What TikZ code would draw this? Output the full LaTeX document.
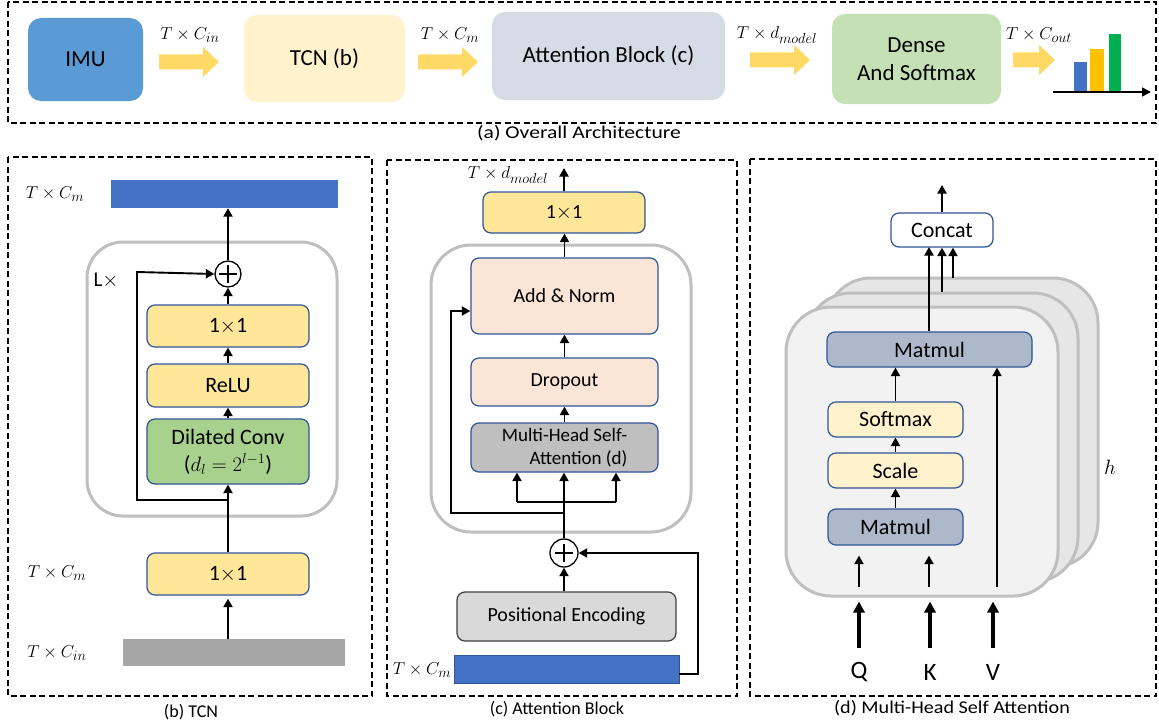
\documentclass[tikz,border=0pt]{standalone}
\usepackage{graphicx}
\usepackage{fontspec}
\setmainfont{Carlito}
\usetikzlibrary{arrows.meta}
\definecolor{imublue}{HTML}{5B9BD5}
\definecolor{tcnyel}{HTML}{FFF2CC}
\definecolor{attgray}{HTML}{D6DCE5}
\definecolor{densegreen}{HTML}{C5E0B4}
\definecolor{arrowyel}{HTML}{FFD966}
\definecolor{barblue}{HTML}{4472C4}
\definecolor{barorange}{HTML}{FFC000}
\definecolor{bargreen}{HTML}{00B050}
\definecolor{boxblue}{HTML}{2F5597}
\definecolor{convyel}{HTML}{FFE699}
\definecolor{dilgreen}{HTML}{A9D18E}
\definecolor{peach}{HTML}{FBE5D6}
\definecolor{mhsagray}{HTML}{BFBFBF}
\definecolor{posgray}{HTML}{D9D9D9}
\definecolor{posedge}{HTML}{404040}
\definecolor{ingray}{HTML}{A6A6A6}
\definecolor{contgray}{HTML}{BFBFBF}
\definecolor{cardfront}{HTML}{F2F2F2}
\definecolor{cardback}{HTML}{E7E6E6}
\definecolor{matgray}{HTML}{ADB9CA}
\newcommand\yblockarrow[3]{\fill[arrowyel] ({#1},{#3-7.5}) -- ({#2-16},{#3-7.5}) -- ({#2-16},{#3-15}) -- ({#2},{#3}) -- ({#2-16},{#3+15}) -- ({#2-16},{#3+7.5}) -- ({#1},{#3+7.5}) -- cycle;}
\newcommand\plussign[1]{\draw[line width=1.2pt] ([xshift=-9pt]#1.center) -- ([xshift=9pt]#1.center) ([yshift=-9pt]#1.center) -- ([yshift=9pt]#1.center);}
\newcommand\oxo{1$\times$1}
\begin{document}
\begin{tikzpicture}[x=1pt,y=-1pt,
  dashbox/.style={draw=black, line width=1.8pt, dash pattern=on 6pt off 3.5pt},
  topbox/.style={rounded corners=13pt, inner sep=0pt, align=center, font=\fontsize{23}{28}\selectfont},
  bbox/.style={draw=boxblue, line width=1.2pt, rounded corners=8pt, inner sep=0pt, align=center},
  cont/.style={draw=contgray, line width=3pt, rounded corners=36pt, inner sep=0pt},
  card/.style={draw=contgray, line width=3pt, rounded corners=45pt, inner sep=0pt},
  arr/.style={-{Triangle[length=8.5pt,width=9pt]}, line width=1.9pt},
  tarr/.style={-{Triangle[length=11pt,width=11pt]}, line width=3.5pt},
  mlab/.style={font=\fontsize{19}{21}\selectfont, inner sep=0pt},
  captxt/.style={font=\fontsize{18}{20}\selectfont, inner sep=0pt},
  plusc/.style={circle, draw, line width=1.3pt, minimum size=26pt, inner sep=0pt, fill=white},
  fb/.style={font=\fontsize{22}{27}\selectfont},
  fc/.style={font=\fontsize{20}{24}\selectfont},
  fd/.style={font=\fontsize{22}{26}\selectfont},
]
\useasboundingbox[fill=white] (0,0) rectangle (1159,725);

% ---------------- (a) overall ----------------
\draw[dashbox] (8,2) rectangle (1156,123);
\node[captxt] (capa) at (579,133) {\scalebox{1.2}[1]{(a) Overall Architecture}};
\node[topbox, fill=imublue, minimum width=115, minimum height=83] (imu) at (85.5,59.5) {IMU};
\node[topbox, fill=tcnyel, minimum width=161, minimum height=87] (tcn) at (324.5,58.5) {TCN (b)};
\node[topbox, fill=attgray, minimum width=233, minimum height=88] (att) at (608.5,56) {Attention Block (c)};
\node[topbox, fill=densegreen, minimum width=169, minimum height=90] (dense) at (916.5,59) {Dense\\And Softmax};
\yblockarrow{159}{219}{62}
\yblockarrow{418}{478}{62}
\yblockarrow{750}{810}{60}
\yblockarrow{1013}{1055}{60}
\node[mlab] (la1) at (190,35) {$T\times C_{in}$};
\node[mlab] (la2) at (450,35) {$T\times C_{m}$};
\node[mlab] (la3) at (777,35) {$T\times d_{model}$};
\node[mlab] (la4) at (1039,35) {$T\times C_{out}$};
\fill[barblue] (1074,62) rectangle (1087,92);
\fill[barorange] (1090,49) rectangle (1104,92);
\fill[bargreen] (1109,34) rectangle (1121,92);
\coordinate (axs) at (1053,92);
\coordinate (axe) at (1151,92);
\draw[-{Triangle[length=9pt,width=9pt]}, line width=1.6pt] (axs) -- (axe);

% ---------------- (b) TCN ----------------
\draw[dashbox] (8,157) rectangle (372,696);
\node[captxt] (capb) at (191,712) {(b) TCN};
\node[cont, minimum width=250, minimum height=274] (loopb) at (212,379) {};
\node[fill=barblue, minimum width=227, minimum height=28, inner sep=0pt] (outb) at (224.5,194) {};
\node[mlab] (lb1) at (55,194) {$T\times C_{m}$};
\node[plusc] (plusb) at (228,274) {};
\plussign{plusb}
\node[font=\fontsize{21}{24}\selectfont, inner sep=0pt] (lx) at (106,281) {L$\times$};
\node[bbox, fb, fill=convyel, minimum width=162, minimum height=42] (c1) at (228,326) {\oxo};
\node[bbox, fb, fill=convyel, minimum width=162, minimum height=43] (relu) at (228,385.5) {ReLU};
\node[bbox, fb, fill=dilgreen, minimum width=162, minimum height=65] (dil) at (228,451.5) {Dilated Conv\\($d_l=2^{l-1}$)};
\node[bbox, fb, fill=convyel, minimum width=162, minimum height=42] (c0) at (228,574) {\oxo};
\node[fill=ingray, minimum width=222, minimum height=27, inner sep=0pt] (inb) at (234,652.5) {};
\node[mlab] (lb2) at (57,573) {$T\times C_{m}$};
\node[mlab] (lb3) at (57,653) {$T\times C_{in}$};
\draw[arr, shorten >=3pt] (c0.south |- inb.north) -- (c0.south);
\draw[arr] (c0.north) -- (dil.south);
\draw[arr] (dil.north) -- (relu.south);
\draw[arr] (relu.north) -- (c1.south);
\draw[arr] (c1.north) -- (plusb.south);
\draw[arr] (plusb.north) -- (plusb.north |- outb.south);
\coordinate (skb) at (228,500);
\draw[arr] (skb) -- (137,500) -- (137,272) -- (plusb.west);

% ---------------- (c) Attention block ----------------
\draw[dashbox] (387,160) rectangle (737,696);
\node[captxt] (capc) at (557,709) {(c) Attention Block};
\node[cont, rounded corners=40pt, minimum width=260, minimum height=287] (loopc) at (561,388.5) {};
\node[mlab] (lc1) at (508,175) {$T\times d_{model}$};
\node[bbox, fc, fill=convyel, minimum width=162, minimum height=41] (cc1) at (564,212.5) {\oxo};
\coordinate (cout) at (564,168);
\node[bbox, fc, fill=peach, minimum width=187, minimum height=76] (addn) at (564.5,296) {Add \& Norm};
\node[bbox, fc, fill=peach, minimum width=187, minimum height=48] (drop) at (564.5,382) {Dropout};
\node[bbox, font=\fontsize{19}{23}\selectfont, fill=mhsagray, minimum width=187, minimum height=49] (mhsa) at (564.5,447.5) {Multi-Head Self-\\\hspace*{28pt}Attention (d)};
\node[plusc, minimum size=28pt] (plusc1) at (564,553) {};
\plussign{plusc1}
\node[bbox, fc, draw=posedge, fill=posgray, minimum width=219, minimum height=49] (pe) at (566.5,616.5) {Positional Encoding};
\node[fill=barblue, draw=boxblue, line width=0.6pt, minimum width=225, minimum height=28, inner sep=0pt] (inc) at (566.5,669) {};
\node[mlab] (lc2) at (422,670) {$T\times C_{m}$};
\draw[arr] (cc1.north) -- (cout);
\draw[arr] (addn.north) -- (addn.north |- cc1.south);
\draw[arr] (drop.north) -- (addn.south);
\draw[arr] (mhsa.north) -- (drop.south);
\draw[arr] (pe.north -| plusc1) -- (plusc1.south);
\draw[arr] (inc.east |- 0,674) -- (698,674) -- (698,553) -- (plusc1.east);
\draw[arr] (plusc1.north) -- (plusc1.north |- mhsa.south);
\coordinate (brl) at (517,502);
\coordinate (brr) at (616,502);
\draw[line width=1.9pt] (brl) -- (brr);
\draw[arr] (brl) -- (brl |- mhsa.south);
\draw[arr] (brr) -- (brr |- mhsa.south);
\coordinate (skc) at (564,513);
\draw[arr] (skc) -- (451,513) -- (451,311) -- (addn.west |- 0,311);

% ---------------- (d) Multi-head self attention ----------------
\draw[dashbox] (750,159) rectangle (1156,696);
\node[captxt] (capd) at (952,708) {\scalebox{1.12}[1]{(d) Multi-Head Self Attention}};
\node[card, fill=cardback, minimum width=272, minimum height=289] (card3) at (962,422.5) {};
\node[card, fill=cardback, minimum width=272, minimum height=289] (card2) at (942,437.5) {};
\node[card, fill=cardfront, minimum width=272, minimum height=289] (card1) at (922,451.5) {};
\node[font=\fontsize{20}{22}\selectfont, inner sep=0pt] (hlab) at (1110,467) {$h$};
\node[bbox, fd, fill=white, minimum width=102, minimum height=34] (concat) at (942,230) {Concat};
\coordinate (dout) at (942,185);
\node[bbox, fd, fill=matgray, minimum width=205, minimum height=35] (mm2) at (929.5,349.5) {Matmul};
\node[bbox, fd, fill=tcnyel, minimum width=135, minimum height=35] (soft) at (895.5,419.5) {Softmax};
\node[bbox, fd, fill=tcnyel, minimum width=135, minimum height=35] (scl) at (895.5,470.5) {Scale};
\node[bbox, fd, fill=matgray, minimum width=135, minimum height=36] (mm1) at (895.5,527) {Matmul};
\draw[arr] (concat.north) -- (dout);
\draw[arr] (mm2.north -| 929,0) -- (929,247);
\draw[arr] (card2.north) -- (card2.north |- concat.south);
\coordinate (c3t) at (953,278);
\draw[arr] (c3t) -- (c3t |- concat.south);
\draw[arr] (soft.north) -- (soft.north |- mm2.south);
\draw[arr] (scl.north) -- (soft.south);
\draw[arr] (mm1.north) -- (scl.south);
\coordinate (vin) at (997,587);
\coordinate (qin) at (859,587);
\coordinate (kin) at (929,587);
\draw[arr] (vin) -- (vin |- mm2.south);
\draw[arr, shorten >=10pt] (qin) -- (qin |- mm1.south);
\draw[arr, shorten >=10pt] (kin) -- (kin |- mm1.south);
\node[font=\fontsize{25}{28}\selectfont, inner sep=0pt] (qq) at (859,672) {Q};
\node[font=\fontsize{25}{28}\selectfont, inner sep=0pt] (kk) at (930,672) {K};
\node[font=\fontsize{25}{28}\selectfont, inner sep=0pt] (vv) at (993,672) {V};
\coordinate (qb) at (859,648);
\coordinate (kb) at (930,648);
\coordinate (vb) at (993,648);
\draw[tarr, shorten >=4pt] (qb) -- (qb |- card1.south);
\draw[tarr, shorten >=4pt] (kb) -- (kb |- card1.south);
\draw[tarr, shorten >=4pt] (vb) -- (vb |- card1.south);
\end{tikzpicture}
\end{document}
